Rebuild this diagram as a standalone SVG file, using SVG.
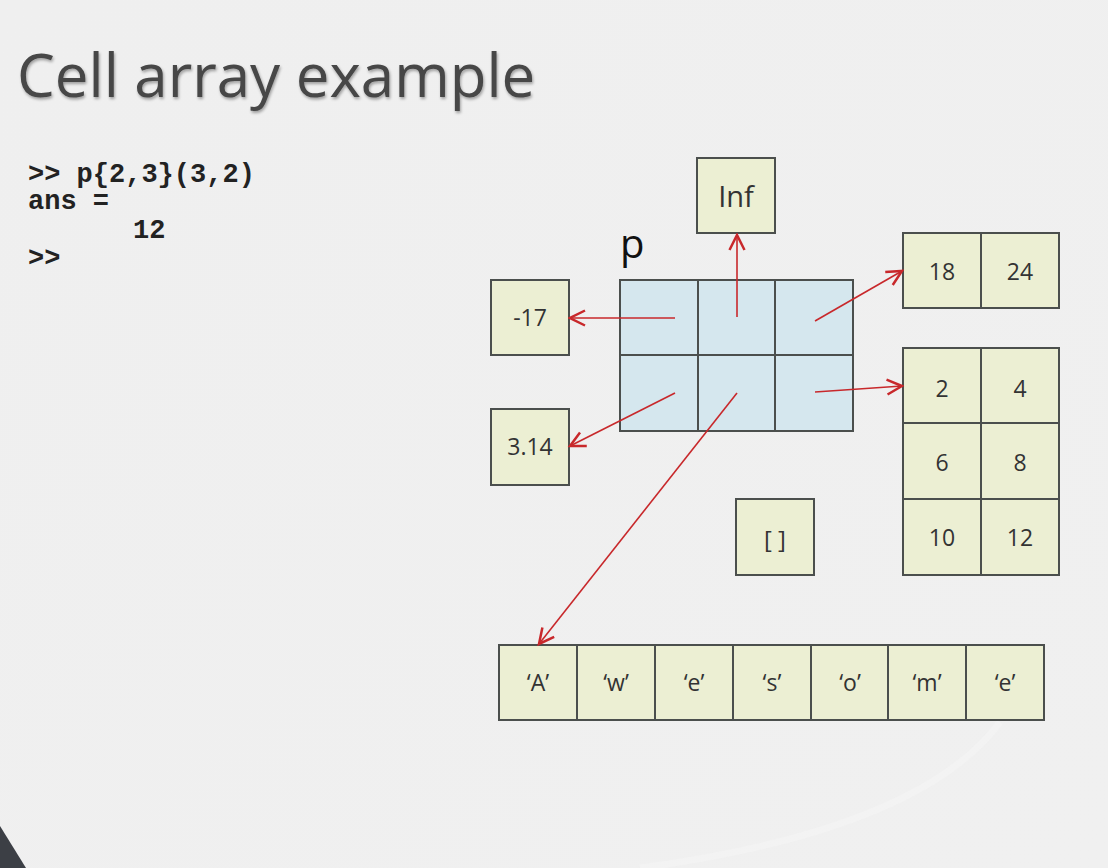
<svg xmlns="http://www.w3.org/2000/svg" width="1108" height="868" viewBox="0 0 1108 868">
  <defs>
    <linearGradient id="bg" x1="0" y1="0" x2="1" y2="1">
      <stop offset="0" stop-color="#efefef"/>
      <stop offset="1" stop-color="#f0f0f0"/>
    </linearGradient>
    <filter id="soft" x="-5%" y="-20%" width="110%" height="140%">
      <feGaussianBlur in="SourceAlpha" stdDeviation="1.5"/>
      <feOffset dx="1" dy="2" result="b"/>
      <feComponentTransfer><feFuncA type="linear" slope="0.35"/></feComponentTransfer>
      <feMerge><feMergeNode/><feMergeNode in="SourceGraphic"/></feMerge>
    </filter>
    <marker id="head" markerUnits="userSpaceOnUse" markerWidth="20" markerHeight="20" refX="0" refY="0" viewBox="-14 -8 16 16" orient="auto">
      <path d="M -12 -6 L 0 0 L -12 6" fill="none" stroke="#c8282b" stroke-width="2"/>
    </marker>
  </defs>
  <style>
    .title { font-family: "Open Sans", "DejaVu Sans", sans-serif; font-size: 60px; fill: #464646; }
    .code { font-family: "Liberation Mono", "Courier New", monospace; font-size: 27px; font-weight: bold; fill: #222222; }
    .cell { stroke: #4b4f4d; stroke-width: 2; }
    .yel { fill: #ecefd3; }
    .blu { fill: #d5e7ee; }
    .val { font-family: "Open Sans", "DejaVu Sans", sans-serif; font-size: 23px; fill: #333333; text-anchor: middle; }
    .big { font-size: 29px; }
    .lbl { font-family: "Open Sans", "DejaVu Sans", sans-serif; font-size: 40px; fill: #111111; }
    .arrow { stroke: #c8282b; stroke-width: 1.6; fill: none; marker-end: url(#head); }
  </style>

  <!-- slide background -->
  <rect x="0" y="0" width="1108" height="868" fill="url(#bg)"/>
  <path d="M 1000 722 Q 920 830 640 868" fill="none" stroke="#f4f4f4" stroke-width="7" opacity="0.7"/>
  <polygon points="0,826 26,868 0,868" fill="#3c3f45"/>

  <!-- heading -->
  <text class="title" x="17" y="97" filter="url(#soft)">Cell array example</text>

  <!-- command window -->
  <g id="console">
    <text class="code" x="28" y="182">&gt;&gt; p{2,3}(3,2)</text>
    <text class="code" x="28" y="209">ans =</text>
    <text class="code" x="133" y="238">12</text>
    <text class="code" x="28" y="266">&gt;&gt;</text>
  </g>

  <!-- the cell array p -->
  <g id="p">
    <text class="lbl" x="620" y="258">p</text>
    <rect class="cell blu" x="620" y="280" width="233" height="151"/>
    <line class="cell" x1="698" y1="280" x2="698" y2="431"/>
    <line class="cell" x1="775" y1="280" x2="775" y2="431"/>
    <line class="cell" x1="620" y1="355" x2="853" y2="355"/>
  </g>

  <g id="inf">
    <rect class="cell yel" x="697" y="158" width="78" height="75"/>
    <text class="val big" x="736" y="207">Inf</text>
  </g>

  <g id="neg17">
    <rect class="cell yel" x="491" y="280" width="78" height="75"/>
    <text class="val" x="530" y="326">-17</text>
  </g>

  <g id="pi">
    <rect class="cell yel" x="491" y="409" width="78" height="76"/>
    <text class="val" x="530" y="455">3.14</text>
  </g>

  <g id="row18">
    <rect class="cell yel" x="903" y="233" width="156" height="75"/>
    <line class="cell" x1="981" y1="233" x2="981" y2="308"/>
    <text class="val" x="942" y="280">18</text>
    <text class="val" x="1020" y="280">24</text>
  </g>

  <g id="matrix">
    <rect class="cell yel" x="903" y="348" width="156" height="227"/>
    <line class="cell" x1="981" y1="348" x2="981" y2="575"/>
    <line class="cell" x1="903" y1="423" x2="1059" y2="423"/>
    <line class="cell" x1="903" y1="499" x2="1059" y2="499"/>
    <text class="val" x="942" y="397">2</text>
    <text class="val" x="1020" y="397">4</text>
    <text class="val" x="942" y="471">6</text>
    <text class="val" x="1020" y="471">8</text>
    <text class="val" x="942" y="546">10</text>
    <text class="val" x="1020" y="546">12</text>
  </g>

  <g id="empty">
    <rect class="cell yel" x="736" y="499" width="78" height="76"/>
    <text class="val" x="775" y="548" style="font-size:24px">[ ]</text>
  </g>

  <g id="chars">
    <rect class="cell yel" x="499" y="645" width="545" height="75"/>
    <line class="cell" x1="577" y1="645" x2="577" y2="720"/>
    <line class="cell" x1="655" y1="645" x2="655" y2="720"/>
    <line class="cell" x1="733" y1="645" x2="733" y2="720"/>
    <line class="cell" x1="811" y1="645" x2="811" y2="720"/>
    <line class="cell" x1="888" y1="645" x2="888" y2="720"/>
    <line class="cell" x1="966" y1="645" x2="966" y2="720"/>
    <text class="val" x="538" y="691">‘A’</text>
    <text class="val" x="616" y="691">‘w’</text>
    <text class="val" x="694" y="691">‘e’</text>
    <text class="val" x="772" y="691">‘s’</text>
    <text class="val" x="850" y="691">‘o’</text>
    <text class="val" x="927" y="691">‘m’</text>
    <text class="val" x="1005" y="691">‘e’</text>
  </g>

  <!-- references held by each cell of p -->
  <g id="connectors">
    <line class="arrow" x1="675" y1="318" x2="570" y2="318"/>
    <line class="arrow" x1="737" y1="317" x2="737" y2="235"/>
    <line class="arrow" x1="815" y1="321" x2="902" y2="271"/>
    <line class="arrow" x1="815" y1="392" x2="902" y2="386"/>
    <line class="arrow" x1="675" y1="393" x2="570" y2="446"/>
    <line class="arrow" x1="737" y1="393" x2="539" y2="644"/>
  </g>
</svg>
